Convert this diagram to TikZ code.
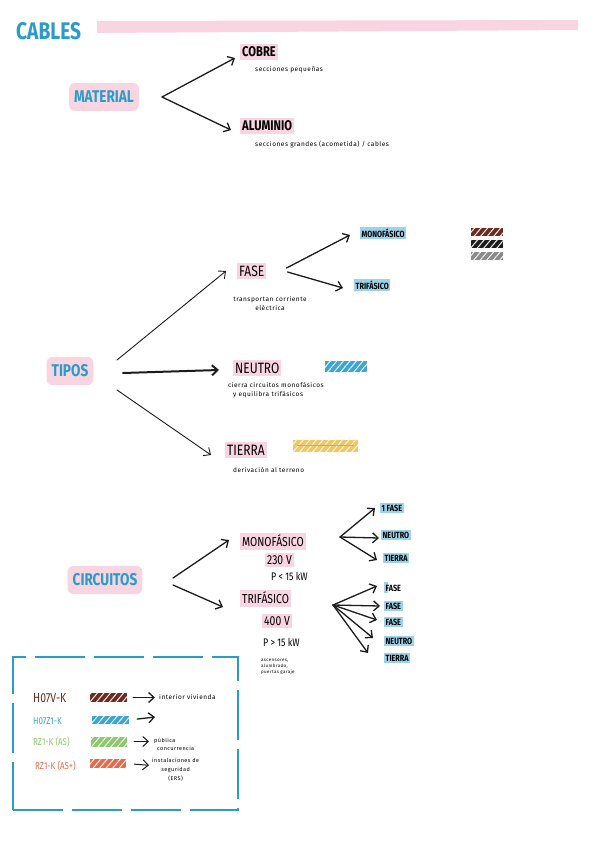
\documentclass[tikz,border=0pt]{standalone}
\usepackage{fontspec}
\setmainfont{Fira Sans}
\newfontfamily\hand[FakeStretch=0.8]{Fira Sans}
\newfontfamily\notef[LetterSpace=8]{Fira Sans}
\usetikzlibrary{arrows.meta,patterns.meta}
\definecolor{cblue}{HTML}{2B9BC8}
\definecolor{pinkhl}{HTML}{F8D5E0}
\definecolor{cyanhl}{HTML}{9BD3EA}
\definecolor{brownc}{HTML}{6E2A1E}
\definecolor{greenc}{HTML}{8DC86B}
\definecolor{orangec}{HTML}{E9694B}
\definecolor{yellowc}{HTML}{EFC862}
\definecolor{grayc}{HTML}{8A8A8A}
\definecolor{blackc}{HTML}{1C1C1C}
\definecolor{swblue}{HTML}{3AA6D6}
\tikzset{
  head/.style={font=\hand\bfseries\fontsize{17}{17}\selectfont, text=cblue},
  hlblob/.style={fill=pinkhl, rounded corners=6pt, inner xsep=5pt, inner ysep=8pt},
  lab/.style={font=\hand\fontsize{15}{15}\selectfont},
  labbold/.style={font=\hand\bfseries\fontsize{14}{14}\selectfont},
  labb/.style={font=\hand\fontsize{13}{13}\selectfont},
  labc/.style={font=\hand\fontsize{11}{11}\selectfont, inner sep=0pt},
  capsm/.style={font=\hand\bfseries\fontsize{9}{9}\selectfont, inner sep=1.5pt},
  note/.style={font=\notef\fontsize{6.5}{9}\selectfont, inner sep=0pt},
  tinyn/.style={font=\notef\fontsize{4.5}{6}\selectfont, inner sep=0pt},
  hlp/.style={fill=pinkhl, inner xsep=2pt, inner ysep=2.5pt},
  hlc/.style={fill=cyanhl, inner xsep=2pt, inner ysep=2pt},
  arr/.style={-{Straight Barb[length=5.5pt,width=10pt]}, line width=1.3pt, line cap=round, draw=blackc},
  arrthin/.style={arr, line width=0.9pt},
  arrthick/.style={arr, line width=2pt},
  swatch/.style={inner sep=0pt, minimum width=32pt, minimum height=8pt,
    postaction={pattern={Lines[angle=50,distance=5pt,line width=1pt]}, pattern color=white!90!gray}},
  legbox/.style={draw=cblue, line width=2.7pt, dash pattern=on 50pt off 9pt, inner sep=0pt},
  legl/.style={font=\hand\fontsize{10}{10}\selectfont, inner sep=0pt}
}
\begin{document}
\begin{tikzpicture}[x=1pt,y=-1pt]
\useasboundingbox (0,0) rectangle (600,848);
\fill[white] (0,0) rectangle (600,848);

% title
\fill[pinkhl] (97,21) -- (578,20) -- (578,30) -- (97,33) -- cycle;
\node[head, font=\hand\bfseries\fontsize{24}{24}\selectfont, anchor=west, inner sep=0pt] (cables) at (16,31) {CABLES};

% MATERIAL
\node[head, hlblob] (material) at (104,97) {MATERIAL};
\node[hlp, labbold, anchor=west] (cobre) at (240,52) {COBRE};
\node[note, anchor=west] (cobren) at (255,70) {secciones pequeñas};
\node[hlp, labbold, anchor=west] (alum) at (240,126) {ALUMINIO};
\node[note, anchor=west] (alumn) at (255,144) {secciones grandes (acometida) / cables};
\coordinate (matout) at (162,97);
\draw[arr] (matout) -- ([xshift=-5pt,yshift=-6pt]cobre.west);
\draw[arr] (matout) -- ([xshift=-9pt,yshift=-4pt]alum.west);

% TIPOS
\node[head, hlblob] (tipos) at (70,371) {TIPOS};
\node[hlp, lab, anchor=west] (fase) at (237,271) {FASE};
\node[note, align=center, anchor=north] (fasen) at (270,296) {transportan corriente\\eléctrica};
\node[hlc, capsm, anchor=west] (mono) at (360,233) {MONOFÁSICO};
\node[hlc, capsm, anchor=west] (tri) at (354,285) {TRIFÁSICO};
\node[swatch, fill=brownc] (swbr) at (487,232) {};
\node[swatch, fill=blackc] (swbk) at (487,243.5) {};
\node[swatch, fill=grayc] (swgr) at (487,256) {};
\node[hlp, lab, anchor=west] (neutro) at (233,368) {NEUTRO};
\node[swatch, fill=swblue, minimum width=42pt, minimum height=11pt] (swneu) at (346,366) {};
\node[note, align=left, anchor=north west] (neun) at (228,382) {cierra circuitos monofásicos\\\hspace{5pt}y equilibra trifásicos};
\node[hlp, lab, anchor=west] (tierra) at (225,450) {TIERRA};
\node[swatch, fill=yellowc, minimum width=65pt, minimum height=12pt] (swti) at (325.5,445.5) {};
\draw[greenc, line width=1.5pt] ([xshift=4pt]swti.west) -- ([xshift=-4pt]swti.east);
\node[note, anchor=west] (tierran) at (233,470) {derivación al terreno};
\coordinate (tA) at (117,360);
\coordinate (tB) at (123,373);
\coordinate (tC) at (117,390);
\draw[arrthin] (tA) -- ([xshift=-11pt]fase.west);
\draw[arrthick] (tB) -- ([xshift=-14pt,yshift=-2pt]neutro.west);
\draw[arrthin] (tC) -- ([xshift=-14pt,yshift=-5pt]tierra.west);
\draw[arr] ([xshift=20pt,yshift=3pt]fase.east) -- ([xshift=-10pt,yshift=-2pt]mono.west);
\draw[arr] ([xshift=21pt,yshift=-1pt]fase.east) -- ([xshift=-11pt,yshift=-3pt]tri.west);

% CIRCUITOS
\node[head, hlblob] (circ) at (105,580) {CIRCUITOS};
\node[hlp, labb, anchor=west] (cmono) at (240,541) {MONOFÁSICO};
\node[hlp, labb, anchor=west] (v230) at (265,560) {230 V};
\node[labc, anchor=west] (p1) at (271,576) {P < 15 kW};
\node[hlp, labb, anchor=west] (ctri) at (240,598) {TRIFÁSICO};
\node[hlp, labb, anchor=west] (v400) at (262,621) {400 V};
\node[labc, anchor=west] (p2) at (263,642) {P > 15 kW};
\node[tinyn, align=left, anchor=north west] (usos) at (261,659) {ascensores,\\alumbrado,\\puertas garaje};
\coordinate (cA) at (173,578);
\coordinate (cB) at (173,585);
\draw[arr] (cA) -- ([xshift=-11pt,yshift=1pt]cmono.west);
\draw[arr] (cB) -- ([xshift=-17pt,yshift=-9pt]ctri.west);

\node[hlc, capsm, anchor=west] (m1) at (380,508) {1 FASE};
\node[hlc, capsm, anchor=west] (m2) at (381,535) {NEUTRO};
\node[hlc, capsm, anchor=west] (m3) at (383,558) {TIERRA};
\coordinate (mo) at (340,537);
\draw[arr] (mo) -- ([xshift=-5pt]m1.west);
\draw[arr] (mo) -- ([xshift=-2pt,yshift=-3pt]m2.west);
\draw[arr] (mo) -- ([xshift=-6pt,yshift=-2pt]m3.west);

\fill[cyanhl] (384,582) rectangle (388,593);
\node[capsm, anchor=west] (t1) at (384,588) {FASE};
\node[hlc, capsm, anchor=west] (t2) at (384,606) {FASE};
\node[hlc, capsm, anchor=west] (t3) at (384,622) {FASE};
\node[hlc, capsm, anchor=west] (t4) at (384,641) {NEUTRO};
\node[hlc, capsm, anchor=west] (t5) at (384,658) {TIERRA};
\coordinate (to) at (333,605);
\draw[arr] (to) -- ([xshift=-7pt,yshift=2pt]t1.west);
\draw[arr] (to) -- ([xshift=-4pt]t2.west);
\draw[arr] (to) -- ([xshift=-7pt,yshift=2pt]t3.west);
\draw[arr] (to) -- ([xshift=-11pt,yshift=3pt]t4.west);
\draw[arr] (to) -- ([xshift=-16pt,yshift=5pt]t5.west);

% legend
\node[legbox, minimum width=225pt, minimum height=153pt] (leg) at (125.5,733.5) {};
\node[legl, font=\hand\fontsize{13}{13}\selectfont, text=brownc, anchor=west] (l1) at (33,698) {H07V-K};
\node[swatch, fill=brownc, minimum width=37pt, minimum height=9pt] (s1) at (108.5,697.5) {};
\node[note, anchor=west] (d1) at (159,697) {interior vivienda};
\draw[arr, shorten <=6pt, shorten >=4pt] (s1.east) -- (d1.west |- s1.east);

\node[legl, text=swblue, anchor=west] (l2) at (33,721) {H07Z1-K};
\node[swatch, fill=swblue, minimum width=37pt, minimum height=8pt] (s2) at (110.5,720) {};
\coordinate (e2) at (155,717);
\draw[arr, shorten <=8pt] (s2.east) -- (e2);

\node[legl, text=greenc, anchor=west] (l3) at (33,742) {RZ1-K (AS)};
\node[swatch, fill=greenc, minimum width=36pt, minimum height=10pt] (s3) at (109,741.5) {};
\node[note, align=left, anchor=west, font=\notef\fontsize{5.5}{8}\selectfont] (d3) at (154,744) {pública\\\hspace{3pt}concurrencia};
\draw[arr, line width=1pt, shorten <=7pt, shorten >=5pt] (s3.east) -- (d3.west |- s3.east);

\node[legl, text=orangec, anchor=west] (l4) at (35,766) {RZ1-K (AS+)};
\node[swatch, fill=orangec, minimum width=36pt, minimum height=9pt] (s4) at (108,763.5) {};
\node[note, align=center, anchor=north west, font=\notef\fontsize{5.5}{9}\selectfont] (d4) at (152,758) {instalaciones de\\seguridad\\(ERS)};
\draw[arr, line width=1pt, shorten <=8pt, shorten >=3pt] (s4.east) -- ([yshift=-2pt]d4.north west |- s4.east);
\end{tikzpicture}
\end{document}
